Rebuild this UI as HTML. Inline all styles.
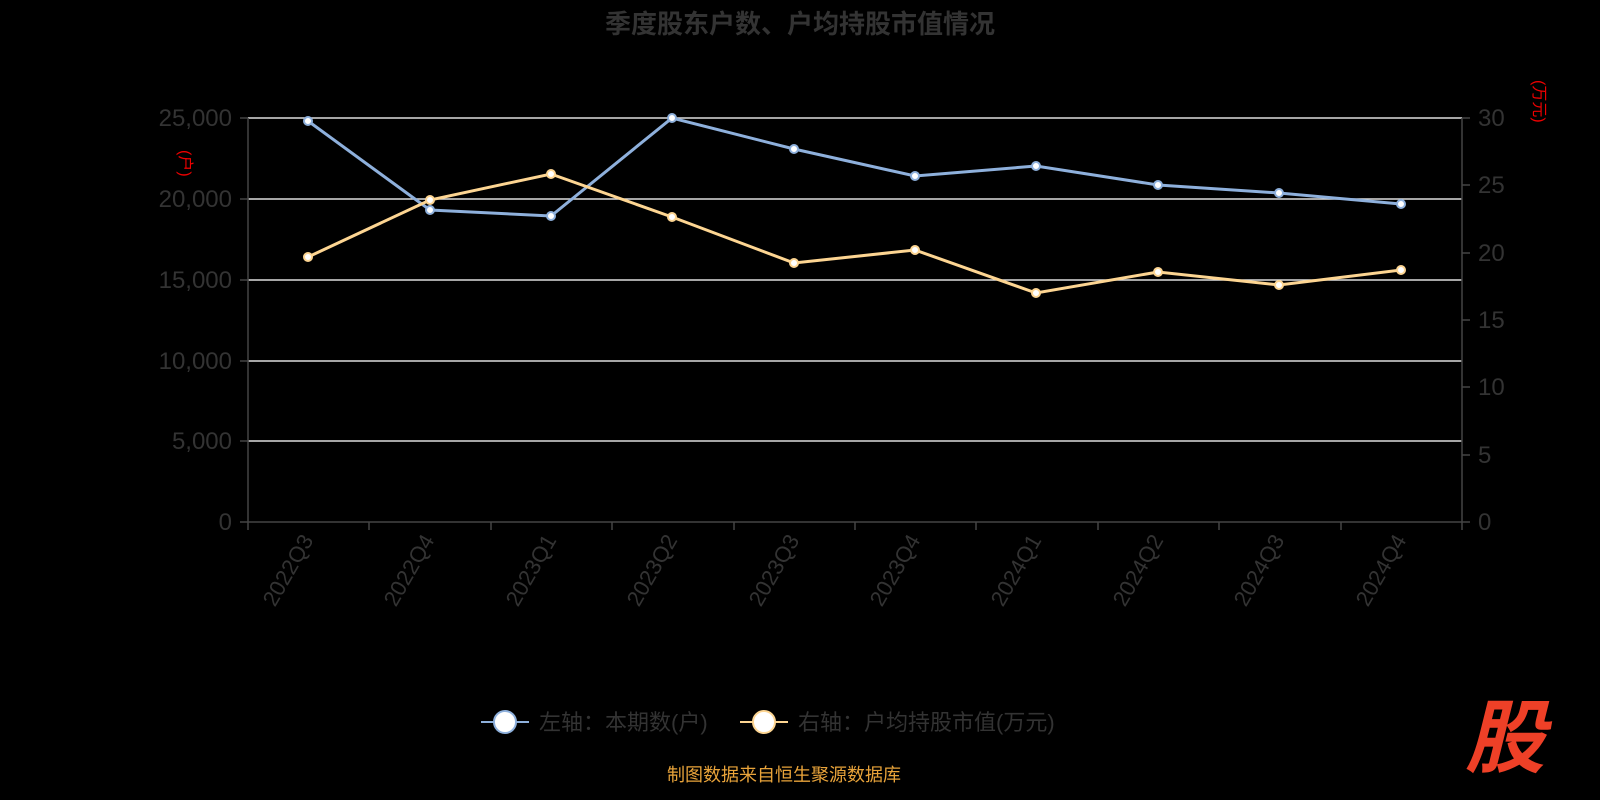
<!DOCTYPE html>
<html><head><meta charset="utf-8"><style>
html,body{margin:0;padding:0;background:#000;width:1600px;height:800px;overflow:hidden}
svg{display:block}
text{font-family:"Liberation Sans","Noto Sans CJK SC",sans-serif}
</style></head><body>
<svg width="1600" height="800" viewBox="0 0 1600 800">
<rect width="1600" height="800" fill="#000"/>
<text x="800" y="33" text-anchor="middle" font-size="26" font-weight="bold" fill="#333">季度股东户数、户均持股市值情况</text>
<g stroke="#ddd" stroke-width="1.5">
<line x1="248" y1="118" x2="1462" y2="118"/>
<line x1="248" y1="199" x2="1462" y2="199"/>
<line x1="248" y1="280" x2="1462" y2="280"/>
<line x1="248" y1="361" x2="1462" y2="361"/>
<line x1="248" y1="441" x2="1462" y2="441"/>
</g>
<g stroke="#444" stroke-width="1.5">
<line x1="248" y1="118" x2="248" y2="522"/>
<line x1="1462" y1="118" x2="1462" y2="522"/>
<line x1="248" y1="522" x2="1462" y2="522"/>
<line x1="240" y1="118" x2="248" y2="118"/><line x1="240" y1="199" x2="248" y2="199"/><line x1="240" y1="280" x2="248" y2="280"/><line x1="240" y1="361" x2="248" y2="361"/><line x1="240" y1="441" x2="248" y2="441"/><line x1="240" y1="522" x2="248" y2="522"/>
<line x1="1462" y1="118" x2="1470" y2="118"/><line x1="1462" y1="185" x2="1470" y2="185"/><line x1="1462" y1="253" x2="1470" y2="253"/><line x1="1462" y1="320" x2="1470" y2="320"/><line x1="1462" y1="387" x2="1470" y2="387"/><line x1="1462" y1="455" x2="1470" y2="455"/><line x1="1462" y1="522" x2="1470" y2="522"/>
<line x1="248" y1="522" x2="248" y2="530"/><line x1="369" y1="522" x2="369" y2="530"/><line x1="491" y1="522" x2="491" y2="530"/><line x1="612" y1="522" x2="612" y2="530"/><line x1="734" y1="522" x2="734" y2="530"/><line x1="855" y1="522" x2="855" y2="530"/><line x1="976" y1="522" x2="976" y2="530"/><line x1="1098" y1="522" x2="1098" y2="530"/><line x1="1219" y1="522" x2="1219" y2="530"/><line x1="1341" y1="522" x2="1341" y2="530"/><line x1="1462" y1="522" x2="1462" y2="530"/>
</g>
<g font-size="24" fill="#333" text-anchor="end">
<text x="232" y="126">25,000</text><text x="232" y="207">20,000</text><text x="232" y="288">15,000</text><text x="232" y="369">10,000</text><text x="232" y="449">5,000</text><text x="232" y="530">0</text>
</g>
<g font-size="24" fill="#333" text-anchor="start">
<text x="1478" y="126">30</text><text x="1478" y="193">25</text><text x="1478" y="261">20</text><text x="1478" y="328">15</text><text x="1478" y="395">10</text><text x="1478" y="463">5</text><text x="1478" y="530">0</text>
</g>
<text transform="translate(180,150) rotate(90)" font-size="16" fill="#e00">(户)</text>
<text transform="translate(1534,80) rotate(90)" font-size="16" fill="#e00">(万元)</text>
<g font-size="22" fill="#333" text-anchor="end">
<text transform="translate(314,540) rotate(-60)">2022Q3</text>
<text transform="translate(435,540) rotate(-60)">2022Q4</text>
<text transform="translate(557,540) rotate(-60)">2023Q1</text>
<text transform="translate(678,540) rotate(-60)">2023Q2</text>
<text transform="translate(800,540) rotate(-60)">2023Q3</text>
<text transform="translate(921,540) rotate(-60)">2023Q4</text>
<text transform="translate(1042,540) rotate(-60)">2024Q1</text>
<text transform="translate(1164,540) rotate(-60)">2024Q2</text>
<text transform="translate(1285,540) rotate(-60)">2024Q3</text>
<text transform="translate(1407,540) rotate(-60)">2024Q4</text>
</g>
<polyline fill="none" stroke="#8eb0dc" stroke-width="3" points="308,121 430,210 551,216 672,118 794,149 915,176 1036,166 1158,185 1279,193 1401,204"/>
<polyline fill="none" stroke="#fdd592" stroke-width="3" points="308,257 430,200 551,174 672,217 794,263 915,250 1036,293 1158,272 1279,285 1401,270"/>
<g fill="#fff" stroke="#8eb0dc" stroke-width="2">
<circle cx="308" cy="121" r="4"/><circle cx="430" cy="210" r="4"/><circle cx="551" cy="216" r="4"/><circle cx="672" cy="118" r="4"/><circle cx="794" cy="149" r="4"/><circle cx="915" cy="176" r="4"/><circle cx="1036" cy="166" r="4"/><circle cx="1158" cy="185" r="4"/><circle cx="1279" cy="193" r="4"/><circle cx="1401" cy="204" r="4"/>
</g>
<g fill="#fff" stroke="#fdd592" stroke-width="2">
<circle cx="308" cy="257" r="4"/><circle cx="430" cy="200" r="4"/><circle cx="551" cy="174" r="4"/><circle cx="672" cy="217" r="4"/><circle cx="794" cy="263" r="4"/><circle cx="915" cy="250" r="4"/><circle cx="1036" cy="293" r="4"/><circle cx="1158" cy="272" r="4"/><circle cx="1279" cy="285" r="4"/><circle cx="1401" cy="270" r="4"/>
</g>
<line x1="481" y1="722" x2="529" y2="722" stroke="#8eb0dc" stroke-width="2"/>
<circle cx="505" cy="722" r="11" fill="#fff" stroke="#8eb0dc" stroke-width="2"/>
<text x="539" y="730" font-size="22" fill="#333">左轴：本期数(户)</text>
<line x1="740" y1="722" x2="788" y2="722" stroke="#fdd592" stroke-width="2"/>
<circle cx="764" cy="722" r="11" fill="#fff" stroke="#fdd592" stroke-width="2"/>
<text x="798" y="730" font-size="22" fill="#333">右轴：户均持股市值(万元)</text>
<text x="784" y="781" text-anchor="middle" font-size="18" fill="#e8a33a">制图数据来自恒生聚源数据库</text>
<text x="1505" y="766" text-anchor="middle" font-size="80" font-weight="bold" font-style="italic" fill="#ee4027">股</text>
</svg>
</body></html>
